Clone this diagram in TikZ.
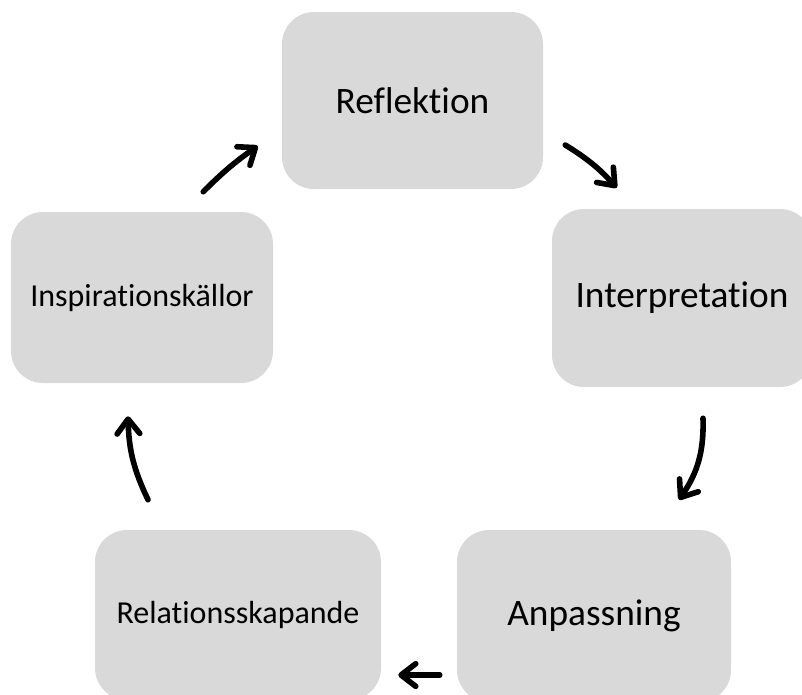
\documentclass[tikz,border=0pt]{standalone}
\usepackage{fontspec}
\setmainfont{Carlito}[Ligatures=NoCommon]
\usepackage{tikz}
\usetikzlibrary{arrows.meta}

\begin{document}
\begin{tikzpicture}[x=0.75pt, y=-0.75pt,
		box/.style={rectangle, rounded corners=24pt, fill=boxgray, inner sep=0pt},
		big/.style={font=\fontsize{28}{34}\selectfont},
		small/.style={font=\fontsize{24}{29}\selectfont},
		arr/.style={line width=4.2pt, line cap=round, -{Straight Barb[length=11pt, width=17pt, round]}}]
	\definecolor{boxgray}{HTML}{D9D9D9}
	\useasboundingbox (0,0) rectangle (802,694);
	\clip (0,0) rectangle (802,694);
	\node[box, big, minimum width=195.75pt, minimum height=132.75pt] (b1) at (412.5, 100.5) {Reflektion};
	\node[box, big, minimum width=195pt, minimum height=133.5pt] (b2) at (682, 298) {Interpretation};
	\node[box, big, minimum width=205.5pt, minimum height=129pt] (b3) at (594, 616) {Anpassning};
	\node[box, small, minimum width=214.5pt, minimum height=127.5pt] (b4) at (238, 615) {Relationsskapande};
	\node[box, small, minimum width=196.5pt, minimum height=128.25pt] (b5) at (142, 297.5) {Inspirationskällor};
	\draw[arr] ([shift={(-70,-20)}]b5.north east) to[bend left=5] ([shift={(-24,45.5)}]b1.west);
	\draw[arr] ([shift={(22,44.5)}]b1.east) to[bend left=8] ([shift={(65,-21)}]b2.north west);
	\draw[arr] ([shift={(21,31)}]b2.south) to[bend left=18] ([shift={(85,-30)}]b3.north);
	\draw[arr] ([shift={(-17,59)}]b3.west) -- ([shift={(17,60)}]b4.east);
	\draw[arr] ([shift={(-90,-30)}]b4.north) to[bend left=12] ([shift={(-14,33)}]b5.south);
\end{tikzpicture}
\end{document}
